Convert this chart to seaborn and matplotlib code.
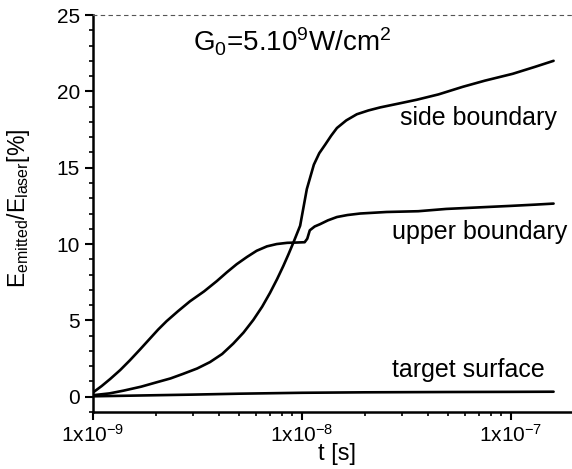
import numpy as np
import pandas as pd
import matplotlib
matplotlib.use("Agg")
import matplotlib.pyplot as plt
import matplotlib.ticker as mticker
import seaborn as sns

# ---- data ----
t_side = [1.0e-9, 1.2e-9, 1.4e-9, 1.7e-9, 2.02e-9, 2.35e-9, 2.7e-9, 3.15e-9, 3.63e-9, 4.15e-9,
          4.69e-9, 5.25e-9, 5.85e-9, 6.45e-9, 7.03e-9, 7.6e-9, 8.14e-9, 8.6e-9, 9.1e-9, 9.8e-9,
          1.055e-8, 1.14e-8, 1.21e-8, 1.29e-8, 1.38e-8, 1.47e-8, 1.63e-8, 1.83e-8, 2.08e-8,
          2.37e-8, 2.9e-8, 3.54e-8, 4.5e-8, 5.89e-8, 7.5e-8, 1.02e-7, 1.3e-7, 1.6e-7]
e_side = [0.1, 0.22, 0.4, 0.66, 0.95, 1.2, 1.5, 1.85, 2.27, 2.8,
          3.48, 4.2, 5.03, 5.9, 6.8, 7.7, 8.56, 9.3, 10.1, 11.2,
          13.6, 15.2, 15.95, 16.5, 17.1, 17.6, 18.1, 18.5, 18.75,
          18.95, 19.2, 19.45, 19.8, 20.3, 20.7, 21.15, 21.6, 22.0]

t_upper = [1.0e-9, 1.1e-9, 1.21e-9, 1.35e-9, 1.5e-9, 1.68e-9, 1.87e-9, 2.05e-9, 2.25e-9, 2.55e-9,
           2.91e-9, 3.4e-9, 3.91e-9, 4.37e-9, 4.87e-9, 5.45e-9, 6.07e-9, 6.8e-9, 7.57e-9, 8.5e-9,
           9.45e-9, 1.03e-8, 1.06e-8, 1.09e-8, 1.15e-8, 1.22e-8, 1.33e-8, 1.47e-8, 1.65e-8, 1.9e-8,
           2.54e-8, 3.6e-8, 4.9e-8, 7.0e-8, 1.0e-7, 1.3e-7, 1.6e-7]
e_upper = [0.28, 0.7, 1.17, 1.75, 2.38, 3.1, 3.8, 4.4, 4.95, 5.6,
           6.25, 6.9, 7.57, 8.15, 8.68, 9.15, 9.56, 9.85, 10.0, 10.08,
           10.1, 10.12, 10.35, 10.9, 11.15, 11.3, 11.55, 11.77, 11.9, 12.0,
           12.1, 12.15, 12.3, 12.4, 12.5, 12.58, 12.65]

t_target = [1.0e-9, 1.5e-9, 2.0e-9, 3.0e-9, 5.0e-9, 1.0e-8, 2.0e-8, 5.0e-8, 1.0e-7, 1.6e-7]
e_target = [0.03, 0.07, 0.1, 0.14, 0.2, 0.26, 0.29, 0.31, 0.32, 0.33]

series_names = ["side boundary", "upper boundary", "target surface"]
x_ticks = [1e-9, 1e-8, 1e-7]
x_tick_labels = [r"1x10$^{\mathregular{-9}}$", r"1x10$^{\mathregular{-8}}$", r"1x10$^{\mathregular{-7}}$"]
y_ticks = [0, 5, 10, 15, 20, 25]

df = pd.concat([
    pd.DataFrame({"t": t_side, "E": e_side, "series": series_names[0]}),
    pd.DataFrame({"t": t_upper, "E": e_upper, "series": series_names[1]}),
    pd.DataFrame({"t": t_target, "E": e_target, "series": series_names[2]}),
])

sns.set_style("ticks")
plt.rcParams["font.family"] = ["Liberation Sans", "DejaVu Sans"]
plt.rcParams["mathtext.fontset"] = "custom"
plt.rcParams["mathtext.rm"] = "Liberation Sans"
plt.rcParams["mathtext.it"] = "Liberation Sans"
for k in ["text.color", "axes.labelcolor", "xtick.color", "ytick.color", "axes.edgecolor"]:
    plt.rcParams[k] = "black"

fig = plt.figure(figsize=(5.72, 4.69), dpi=100)
ax = fig.add_axes([0.1626, 0.1215, 0.8374, 0.8465])

sns.lineplot(data=df, x="t", y="E", units="series", estimator=None, sort=True,
             ax=ax, color="black", linewidth=1.9, legend=False)

ax.set_xscale("log")
ax.set_xlim(1e-9, 1.96e-7)
ax.set_ylim(-1, 25)
ax.set_xticks(x_ticks)
ax.set_xticklabels(x_tick_labels)
ax.set_yticks(y_ticks)
ax.yaxis.set_minor_locator(mticker.MultipleLocator(1))
ax.xaxis.set_minor_locator(mticker.LogLocator(base=10, subs=np.arange(2, 10)))
ax.xaxis.set_minor_formatter(mticker.NullFormatter())
ax.tick_params(axis="both", which="major", direction="out", length=6, width=1.5,
               labelsize=15, colors="black")
ax.tick_params(axis="x", which="major", pad=2.5)
ax.tick_params(axis="both", which="minor", direction="out", length=3, width=1.2)

for s in ["left", "bottom"]:
    ax.spines[s].set_linewidth(1.8)
ax.spines["right"].set_visible(False)
ax.spines["top"].set_linestyle((0, (3, 4)))
ax.spines["top"].set_linewidth(0.8)
ax.spines["top"].set_color("#555555")

ax.set_xlabel("t [s]", fontsize=17)
ax.xaxis.set_label_coords(0.51, -0.078)
ax.set_ylabel(r"E$_{\mathregular{emitted}}$/E$_{\mathregular{laser}}$[%]", fontsize=16.5)
ax.yaxis.set_label_coords(-0.128, 0.514)

ax.text(0.209, 0.932, r"G$_{\mathregular{0}}$=5.10$^{\mathregular{9}}$W/cm$^{\mathregular{2}}$",
        transform=ax.transAxes, fontsize=20, ha="left", va="center")
ax.text(0.64, 0.741, "side boundary", transform=ax.transAxes, fontsize=18, ha="left", va="center")
ax.text(0.625, 0.453, "upper boundary", transform=ax.transAxes, fontsize=18, ha="left", va="center")
ax.text(0.625, 0.106, "target surface", transform=ax.transAxes, fontsize=18, ha="left", va="center")

fig.savefig("out.png", dpi=100, facecolor="white")
